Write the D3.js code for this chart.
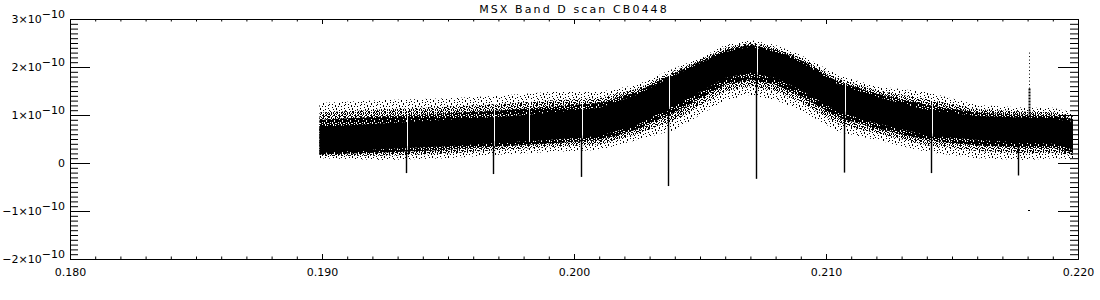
<!DOCTYPE html>
<html>
<head>
<meta charset="utf-8">
<script src="https://cdn.jsdelivr.net/npm/d3@7"></script>
<style>
  body { margin: 0; background: #fff; }
  text { font-family: "DejaVu Sans", sans-serif; font-size: 11px; fill: #000; }
</style>
</head>
<body>
<svg id="chart" width="1100" height="300"></svg>
<script>
// chart text + ticks
var title = "MSX Band D scan CB0448";
var xTicks = [0.180, 0.190, 0.200, 0.210, 0.220];
var xTickLabels = ["0.180", "0.190", "0.200", "0.210", "0.220"];
var yTicks = [-2e-10, -1e-10, 0, 1e-10, 2e-10, 3e-10];
var yTickMantissa = ["\u22122", "\u22121", "0", "1", "2", "3"];

// band envelopes (units of 1e-10)
var wavelength    = [0.1899, 0.1925, 0.1950, 0.1970, 0.1990, 0.2010, 0.2025, 0.2040, 0.2050, 0.2060,
                     0.2070, 0.2080, 0.2090, 0.2105, 0.2120, 0.2140, 0.2160, 0.2180, 0.2190, 0.2198];
var denseTop      = [0.75, 0.83, 0.90, 0.96, 1.04, 1.15, 1.42, 1.83, 2.08, 2.31,
                     2.42, 2.31, 2.10, 1.63, 1.38, 1.10, 0.98, 0.94, 0.92, 0.86];
var denseBottom   = [0.21, 0.29, 0.35, 0.42, 0.48, 0.56, 0.79, 1.21, 1.48, 1.77,
                     1.88, 1.77, 1.52, 1.06, 0.83, 0.58, 0.48, 0.42, 0.40, 0.28];
var scatterTop    = [1.25, 1.31, 1.35, 1.40, 1.48, 1.48, 1.63, 1.98, 2.19, 2.46,
                     2.56, 2.46, 2.25, 1.83, 1.60, 1.48, 1.21, 1.15, 1.15, 1.05];
var scatterBottom = [0.10, 0.06, 0.10, 0.17, 0.23, 0.27, 0.48, 0.69, 1.00, 1.31,
                     1.42, 1.31, 1.10, 0.65, 0.48, 0.23, 0.10, 0.06, 0.10, 0.08];

// dropouts below the band
var dipWavelength = [0.19332, 0.19679, 0.20027, 0.20373, 0.20721, 0.21071, 0.21417, 0.21762];
var dipMin        = [-0.21, -0.23, -0.29, -0.48, -0.33, -0.20, -0.21, -0.26];

// white gaps (missing samples) through the band
var gapWavelength = [0.19336, 0.19683, 0.19821, 0.20031, 0.20377, 0.20725, 0.21075, 0.21421];

// spike near the end + stray points
var spikeWavelength = [0.21806];
var spikeTop        = [2.30];
var spikeMid        = [1.55];
var strayWavelength = [0.21804];
var strayValue      = [-1.0];

var U = 1e-10;
var plotL = 70, plotR = 1078, plotT = 19, plotB = 259;

var svg = d3.select("#chart");

var x = d3.scaleLinear().domain([0.180, 0.220]).range([plotL, plotR]);
var y = d3.scaleLinear().domain([-2e-10, 3e-10]).range([plotB, plotT]);

// piecewise lookups along the band
var topAt = d3.scaleLinear().domain(wavelength).range(scatterTop.map(v => v * U));
var botAt = d3.scaleLinear().domain(wavelength).range(denseBottom.map(v => v * U));
var denseTopAt = d3.scaleLinear().domain(wavelength).range(denseTop.map(v => v * U));

// speckle tiles for the scattered points ('#' = dot)
var outerTile = [
  "#.......#.......",
  "#....#.......#..",
  "...#.....#......",
  "..........#...#.",
  ".#....#.........",
  ".#.........#....",
  "......#..#....#.",
  "...#............",
  "...#.....#..#...",
  "........#......#",
  "..#..#.........#",
  "............#..."
];
var midTile = [
  "#..#.#..",
  ".#...#.#",
  "#..#....",
  "..#..##.",
  "#...#..#",
  ".#.#....",
  "...#.#.#",
  "##....#."
];
var innerTile = [
  "###.##.#",
  "#.####.#",
  "##.#.###",
  ".###.##.",
  "##.##.##",
  "#.###.#.",
  "###.####",
  ".##.##.#"
];

var defs = svg.append("defs");
function speck(id, tile) {
  var p = defs.append("pattern").attr("id", id)
    .attr("patternUnits", "userSpaceOnUse")
    .attr("width", tile[0].length).attr("height", tile.length);
  var cells = [];
  tile.forEach((row, r) => row.split("").forEach((c, k) => { if (c === "#") cells.push([k, r]); }));
  p.selectAll("rect").data(cells).enter().append("rect")
    .attr("x", d => d[0]).attr("y", d => d[1])
    .attr("width", 1).attr("height", 1)
    .attr("fill", "#000")
    .attr("shape-rendering", "crispEdges");
}
speck("speckOuter", outerTile);
speck("speckMid", midTile);
speck("speckInner", innerTile);

var idx = d3.range(wavelength.length);

// zone between the dense core and the scatter envelope, at fraction f
function zone(f) {
  return d3.area()
    .x(i => x(wavelength[i]))
    .y0(i => y((denseBottom[i] + (scatterBottom[i] - denseBottom[i]) * f) * U))
    .y1(i => y((denseTop[i] + (scatterTop[i] - denseTop[i]) * f) * U));
}

svg.append("path").datum(idx).attr("d", zone(1)).attr("fill", "url(#speckOuter)");
svg.append("path").datum(idx).attr("d", zone(0.6)).attr("fill", "url(#speckMid)");
svg.append("path").datum(idx).attr("d", zone(0.3)).attr("fill", "url(#speckInner)");
svg.append("path").datum(idx).attr("d", zone(0)).attr("fill", "#000");

// white gaps
svg.append("g").selectAll("line").data(gapWavelength).enter().append("line")
  .attr("x1", d => Math.round(x(d)) + 0.5).attr("x2", d => Math.round(x(d)) + 0.5)
  .attr("y1", d => y(topAt(d)) - 2).attr("y2", d => y(botAt(d)) + 1)
  .attr("stroke", "#fff").attr("stroke-width", 1);

// dips
svg.append("g").selectAll("line").data(dipWavelength).enter().append("line")
  .attr("x1", d => Math.round(x(d)) + 0.5).attr("x2", d => Math.round(x(d)) + 0.5)
  .attr("y1", d => y(botAt(d)) - 2)
  .attr("y2", (d, i) => y(dipMin[i] * U))
  .attr("stroke", "#000").attr("stroke-width", 1.4);

// spike
spikeWavelength.forEach(function(w, i) {
  var sx = Math.round(x(w)) + 0.5;
  svg.append("line").attr("x1", sx).attr("x2", sx)
    .attr("y1", y(spikeTop[i] * U)).attr("y2", y(spikeMid[i] * U))
    .attr("stroke", "#000").attr("stroke-dasharray", "1,2.5");
  svg.append("line").attr("x1", sx).attr("x2", sx)
    .attr("y1", y(spikeMid[i] * U)).attr("y2", y(denseTopAt(w)))
    .attr("stroke", "#000").attr("stroke-width", 2).attr("stroke-dasharray", "2,1");
});

svg.append("g").selectAll("rect").data(strayWavelength).enter().append("rect")
  .attr("x", d => Math.round(x(d)) - 1).attr("y", (d, i) => Math.round(y(strayValue[i] * U)) - 1)
  .attr("width", 2).attr("height", 1).attr("fill", "#000");

// axes, ticks pointing inward like IDL
var xMinor = d3.range(0.180, 0.2201, 0.001);
var yMinor = d3.range(-2e-10, 3.01e-10, 1e-11);

function xAxis(gen, size, vals, ypos) {
  svg.append("g").attr("transform", "translate(0," + ypos + ")")
    .call(gen(x).tickValues(vals).tickSize(size).tickSizeOuter(0).tickFormat(""));
}
xAxis(d3.axisBottom, -2.5, xMinor, plotB);
xAxis(d3.axisTop, -2.5, xMinor, plotT);
xAxis(d3.axisTop, -5, xTicks, plotT);

var xb = svg.append("g").attr("transform", "translate(0," + plotB + ")")
  .call(d3.axisBottom(x).tickValues(xTicks).tickSize(-5).tickSizeOuter(0)
    .tickPadding(9).tickFormat((d, i) => xTickLabels[i]));
xb.selectAll("text").style("font-family", "DejaVu Sans").style("font-size", "11px");

function yAxis(gen, size, vals, xpos) {
  svg.append("g").attr("transform", "translate(" + xpos + ",0)")
    .call(gen(y).tickValues(vals).tickSize(size).tickSizeOuter(0).tickFormat(""));
}
yAxis(d3.axisLeft, -8, yMinor, plotL);
yAxis(d3.axisLeft, -20, yTicks, plotL);
yAxis(d3.axisRight, -8, yMinor, plotR);
yAxis(d3.axisRight, -20, yTicks, plotR);

svg.selectAll(".domain").attr("stroke", "#000");
svg.selectAll(".tick line").attr("stroke", "#000");

// y labels with exponent
var yl = svg.append("g").selectAll("text").data(yTicks).enter().append("text")
  .attr("x", 65).attr("y", d => y(d) + 4)
  .attr("text-anchor", "end");
yl.each(function(d, i) {
  var t = d3.select(this);
  if (d === 0) { t.text(yTickMantissa[i]); return; }
  t.append("tspan").text(yTickMantissa[i] + "\u00d710");
  t.append("tspan").attr("dy", -5).text("\u221210");
});

// title
svg.append("text")
  .attr("x", (plotL + plotR) / 2).attr("y", 13)
  .attr("text-anchor", "middle")
  .style("letter-spacing", "2.1px")
  .text(title);
</script>
</body>
</html>
